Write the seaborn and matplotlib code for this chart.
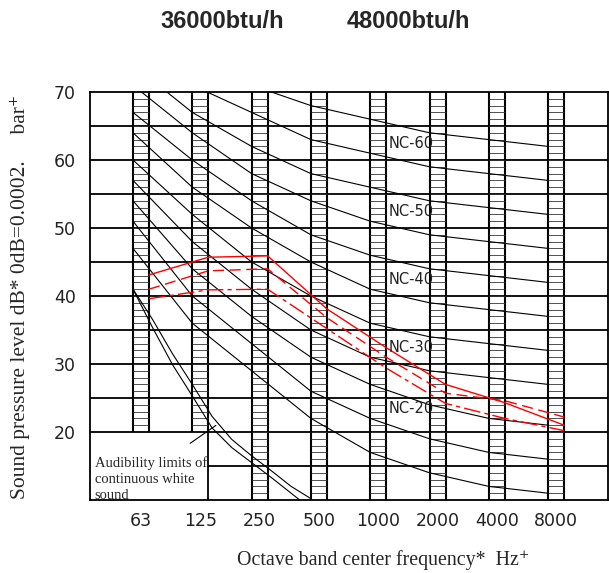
import numpy as np
import pandas as pd
import matplotlib
matplotlib.use('Agg')
import matplotlib.pyplot as plt
import seaborn as sns

# octave bands on the x axis
bands = [63, 125, 250, 500, 1000, 2000, 4000, 8000]
band_labels = ['63', '125', '250', '500', '1000', '2000', '4000', '8000']

# NC curves (dB per octave band)
nc15 = [47, 36, 29, 22, 17, 14, 12, 11]
nc20 = [51, 40, 33, 26, 22, 19, 17, 16]
nc25 = [54, 44, 37, 31, 27, 24, 22, 21]
nc30 = [57, 48, 41, 35, 31, 29, 28, 27]
nc35 = [60, 52, 45, 40, 36, 34, 33, 32]
nc40 = [64, 56, 50, 45, 41, 39, 38, 37]
nc45 = [67, 60, 54, 49, 46, 44, 43, 42]
nc50 = [71, 64, 58, 54, 51, 49, 48, 47]
nc55 = [74, 67, 62, 58, 56, 54, 53, 52]
nc60 = [77, 71, 67, 63, 61, 59, 58, 57]
nc65 = [80, 75, 71, 68, 66, 64, 63, 62]
nc_curves = [nc15, nc20, nc25, nc30, nc35, nc40, nc45, nc50, nc55, nc60, nc65]
nc_names = ['NC-15', 'NC-20', 'NC-25', 'NC-30', 'NC-35', 'NC-40', 'NC-45',
            'NC-50', 'NC-55', 'NC-60', 'NC-65']
nc_tagged = ['NC-20', 'NC-30', 'NC-40', 'NC-50', 'NC-60']

# measured unit spectra (red)
meas_solid = [43.1, 45.7, 45.9, 38.1, 32.4, 27.0, 24.3, 21.0]
meas_dashed = [41.0, 43.7, 44.0, 36.8, 31.0, 25.7, 24.6, 22.2]
meas_dashdot = [39.6, 40.9, 41.0, 35.2, 29.4, 24.2, 22.0, 20.2]

# audibility limits of continuous white sound (1/3 octave)
aud_freqs = [63, 80, 100, 125, 160, 200, 250, 315, 400, 500]
aud_lower = [41.0, 35.3, 29.9, 25.3, 20.6, 17.7, 15.5, 13.3, 11.0, 8.7]
aud_upper = [41.0, 36.5, 31.5, 27.0, 22.3, 18.9, 16.5, 14.3, 12.0, 10.2]


def octave_pos(f):
    # position in octaves from 63 Hz, snapped to 1/3 octave
    return np.round(np.log2(np.asarray(f) / 1000.0) * 3) / 3 + 4


hw = 0.135  # half width of the hatched band strips
xpos = octave_pos(bands)

nc_df = pd.DataFrame({
    'x': np.tile(xpos - hw, len(nc_curves)),
    'dB': np.concatenate(nc_curves),
    'curve': np.repeat(nc_names, len(bands)),
})
meas_df = pd.DataFrame({
    'x': np.tile(xpos + hw, 3),
    'dB': meas_solid + meas_dashed + meas_dashdot,
    'series': np.repeat(['solid', 'dashed', 'dashdot'], len(bands)),
})
aud_df = pd.DataFrame({
    'x': np.tile(octave_pos(aud_freqs) - hw, 2),
    'dB': aud_lower + aud_upper,
    'curve': np.repeat(['lower', 'upper'], len(aud_freqs)),
})

sns.set_style('white')
plt.rcParams['font.family'] = ['DejaVu Sans']

fig = plt.figure(figsize=(6.09, 5.73), dpi=100)
ax = fig.add_axes([90 / 609, 1 - 500 / 573, 518 / 609, 408 / 573])
x_lo, x_hi = -0.86, 7.875
ax.set_xlim(x_lo, x_hi)
ax.set_ylim(10, 70)

# grid
ax.hlines(np.arange(20, 70, 5), x_lo, x_hi, color='black', lw=1.3)
ax.hlines(15, xpos[1] + hw, x_hi, color='black', lw=1.3)

# hatched strips at each band
for i, x in enumerate(xpos):
    lo = 20 if i < 2 else 10
    ax.vlines([x - hw, x + hw], lo, 70, color='black', lw=1.5)
    ax.hlines(np.arange(lo + 1, 70), x - hw, x + hw, color='#333333', lw=0.6)
ax.vlines(xpos[1] + hw, 10, 20, color='black', lw=1.3)

sns.lineplot(data=nc_df, x='x', y='dB', units='curve', estimator=None,
             color='black', lw=0.8, ax=ax, legend=False)
sns.lineplot(data=aud_df, x='x', y='dB', units='curve', estimator=None,
             color='black', lw=0.8, ax=ax, legend=False)
sns.lineplot(data=meas_df, x='x', y='dB', style='series', color='red',
             dashes={'solid': '', 'dashed': (8, 4), 'dashdot': (12, 3, 3, 3)},
             lw=1.0, ax=ax, legend=False)

# NC labels just right of the 1000 Hz strip
for name in nc_tagged:
    v = nc_curves[nc_names.index(name)][4]
    ax.text(xpos[4] + 0.17, v + 1.4, name, fontsize=10.5, va='center',
            ha='left', color='#222222')

ax.text(-0.78, 13.1, 'Audibility limits of\ncontinuous white\nsound',
        family=['Liberation Serif', 'DejaVu Serif'], fontsize=10.5,
        va='center', ha='left', linespacing=1.3)
ax.annotate('', xy=(1.30, 21.2), xytext=(0.79, 18.1),
            arrowprops=dict(arrowstyle='-', lw=0.8, color='black'))

ax.set_xticks(xpos)
ax.set_xticklabels(band_labels)
ax.set_yticks([20, 30, 40, 50, 60, 70])
ax.tick_params(length=0, labelsize=12.5, colors='#222222')
ax.tick_params(axis='x', pad=9)
ax.tick_params(axis='y', pad=10)
ax.set_xlabel('')
ax.set_ylabel('')
for side in ['left', 'top', 'bottom', 'right']:
    ax.spines[side].set_color('black')
    ax.spines[side].set_linewidth(1.3)

serif = ['Liberation Serif', 'DejaVu Serif']
fig.text(20 / 609, 1 - 297 / 573,
         'Sound pressure level dB* 0dB=0.0002.     bar\u207a',
         rotation=90, ha='center', va='center', family=serif, fontsize=15.5)
fig.text(383 / 609, 1 - 560 / 573, 'Octave band center frequency*  Hz\u207a',
         ha='center', va='center', family=serif, fontsize=14.3)

bold = ['Liberation Sans', 'DejaVu Sans']
fig.text(222 / 609, 1 - 22 / 573, '36000btu/h', ha='center', va='center',
         family=bold, fontweight='bold', fontsize=17)
fig.text(408 / 609, 1 - 22 / 573, '48000btu/h', ha='center', va='center',
         family=bold, fontweight='bold', fontsize=17)

fig.savefig('out.png', dpi=100, facecolor='white')
